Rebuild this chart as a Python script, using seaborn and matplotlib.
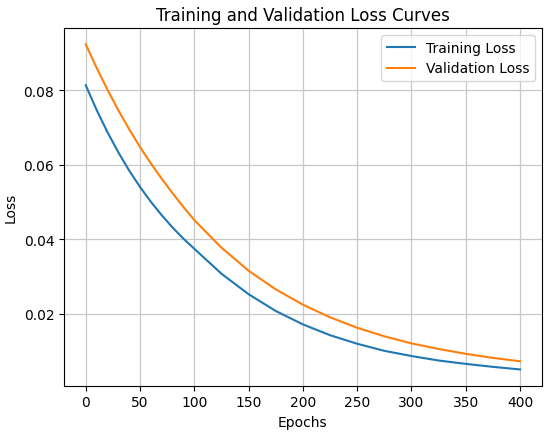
import matplotlib
matplotlib.use("Agg")
import matplotlib.pyplot as plt
import seaborn as sns
import pandas as pd

# valores (cada 10 epocas al principio, luego cada 25)
epochs = [0, 10, 20, 30, 40, 50, 60, 70, 80, 90, 100,
          125, 150, 175, 200, 225, 250, 275, 300, 325, 350, 375, 400]
train_loss = [0.0814, 0.0748, 0.0688, 0.0634, 0.0585, 0.0541, 0.0501, 0.0465, 0.0432, 0.0402, 0.0375,
              0.0308, 0.0253, 0.0208, 0.0172, 0.0143, 0.0120, 0.0101, 0.0087, 0.0075, 0.0066, 0.0058, 0.0051]
val_loss = [0.0924, 0.0861, 0.0802, 0.0747, 0.0696, 0.0648, 0.0604, 0.0563, 0.0524, 0.0487, 0.0452,
            0.0378, 0.0316, 0.0266, 0.0225, 0.0191, 0.0163, 0.0140, 0.0121, 0.0106, 0.0093, 0.0082, 0.0073]

df = pd.DataFrame({
    "Epochs": epochs * 2,
    "Loss": train_loss + val_loss,
    "serie": ["Training Loss"] * len(epochs) + ["Validation Loss"] * len(epochs),
})

fig, ax = plt.subplots(figsize=(5.5, 4.35), dpi=100)
fig.subplots_adjust(left=0.1164, right=0.985, top=0.9333, bottom=0.111)

sns.lineplot(data=df, x="Epochs", y="Loss", hue="serie",
             palette=["#1f77b4", "#ff7f0e"], ax=ax, linewidth=1.5)

ax.set_title("Training and Validation Loss Curves")
ax.set_xlabel("Epochs")
ax.set_ylabel("Loss")
ax.set_xticks(range(0, 401, 50))
ax.set_yticks([0.02, 0.04, 0.06, 0.08])
ax.grid(True, color="#c8c8c8", linewidth=0.9)
ax.legend(title=None, loc="upper right")

plt.savefig("out.png", dpi=100)
